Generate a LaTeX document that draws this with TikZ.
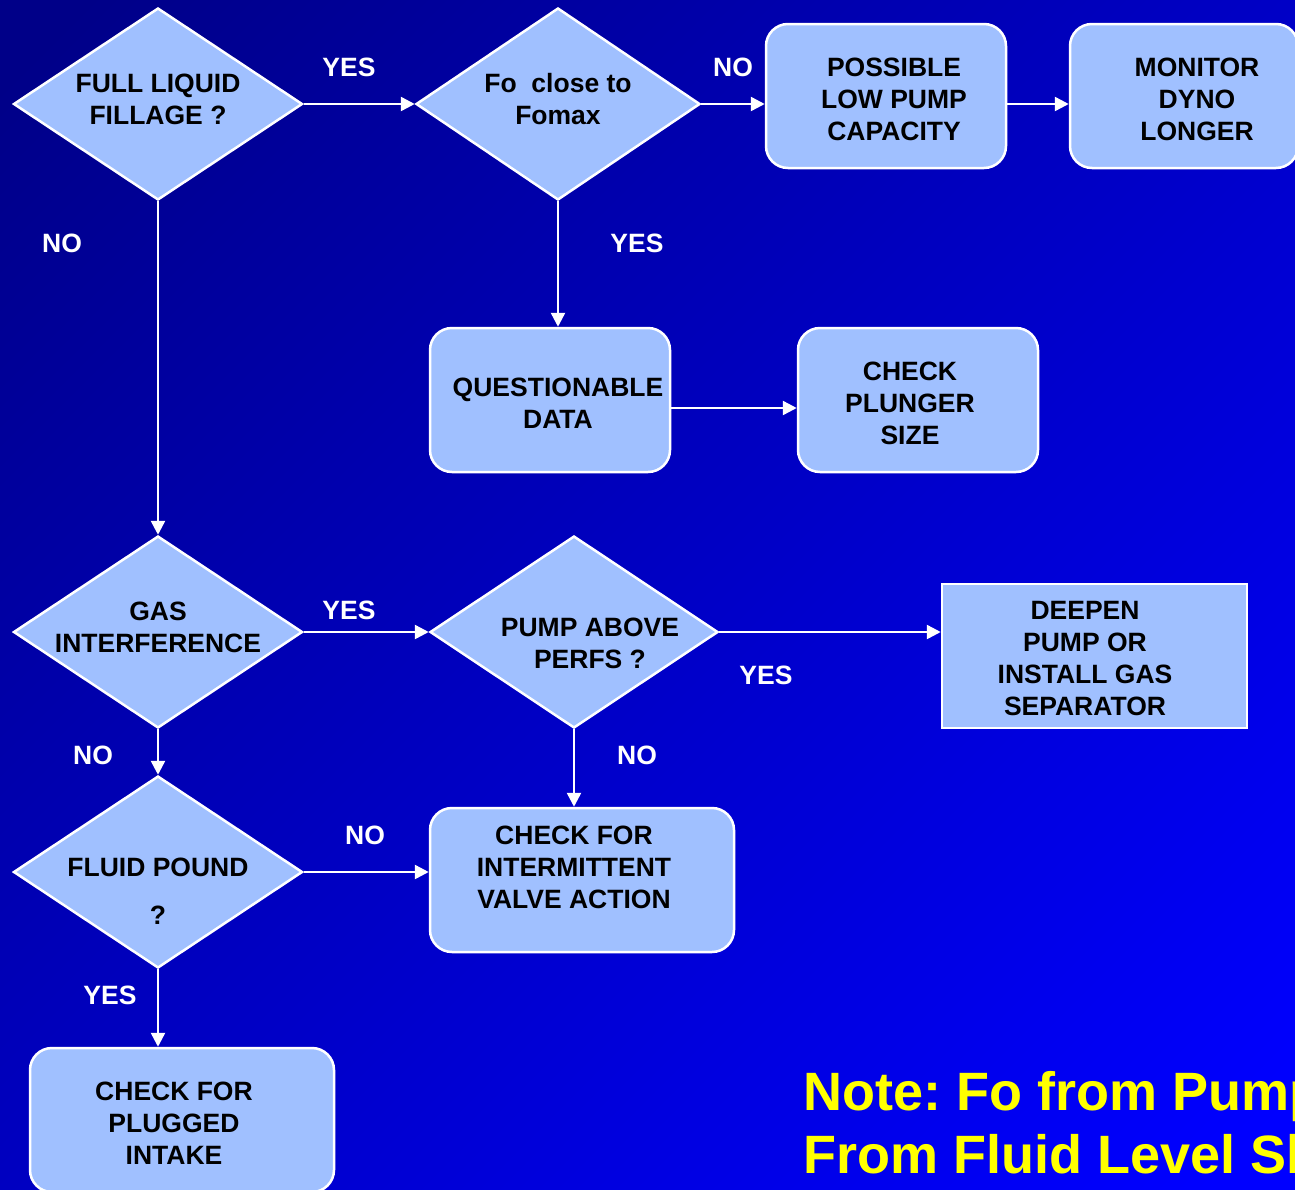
\documentclass[tikz,border=0pt]{standalone}
\usepackage{fontspec}
\setmainfont{Liberation Sans}
\usetikzlibrary{shapes.geometric,arrows.meta,calc}
\definecolor{bgdark}{RGB}{0,0,136}
\definecolor{bglight}{RGB}{0,0,255}
\definecolor{boxfill}{RGB}{160,192,255}
\definecolor{notecol}{RGB}{255,255,0}
\frenchspacing
\begin{document}
\begin{tikzpicture}[x=1pt,y=-1pt,
  dia/.style={shape=diamond, draw=white, line width=2.5pt, fill=boxfill, minimum width=289pt, minimum height=192pt, inner sep=0pt, aspect=1.5},
  rbox/.style={shape=rectangle, rounded corners=22pt, draw=white, line width=2.5pt, fill=boxfill, inner sep=0pt, minimum height=144pt},
  sbox/.style={shape=rectangle, draw=white, line width=2.5pt, fill=boxfill, inner sep=0pt, minimum height=144pt},
  txt/.style={font=\fontsize{26.5}{32}\selectfont\bfseries, text=black, align=center, inner sep=0pt},
  lbl/.style={font=\fontsize{26.5}{32}\selectfont\bfseries, text=white, inner sep=0pt},
  conn/.style={draw=white, line width=2.5pt, -{Triangle[length=14pt,width=14pt]}},
  note/.style={font=\fontsize{54}{63}\selectfont\bfseries\frenchspacing, text=notecol, inner sep=0pt, anchor=base west}]

\useasboundingbox (0,0) rectangle (1295,1189);
\clip (0,0) rectangle (1295,1189);
\shade[top color=bgdark, bottom color=bglight, shading angle=45] (-200,-200) rectangle (1495,1389);

% decisions
\node[dia] (d1) at (158,104) {};
\node[txt] (d1t) at (158,99) {FULL LIQUID\\FILLAGE ?};
\node[dia, minimum width=284pt] (d2) at (558,104) {};
\node[txt] (d2t) at (558,99) {Fo\ \ close to\\Fomax};
\node[dia] (d3) at (158,632) {};
\node[txt] (d3t) at (158,627) {GAS\\INTERFERENCE};
\node[dia, minimum width=288pt] (d4) at (574,632) {};
\node[txt] (d4t) at (590,643) {PUMP ABOVE\\PERFS ?};
\node[dia] (d5) at (158,872) {};
\node[txt, font=\fontsize{26.5}{48}\selectfont\bfseries] (d5t) at (158,891) {FLUID POUND\\?};

% boxes
\node[rbox, minimum width=240pt] (pos) at (886,96) {};
\node[txt] (post) at (894,99) {POSSIBLE\\LOW PUMP\\CAPACITY};
\node[rbox, minimum width=228pt] (mon) at (1184,96) {};
\node[txt] (mont) at (1197,99) {MONITOR\\DYNO\\LONGER};
\node[rbox, minimum width=240pt] (q) at (550,400) {};
\node[txt] (qt) at (558,403) {QUESTIONABLE\\DATA};
\node[rbox, minimum width=240pt] (pl) at (918,400) {};
\node[txt] (plt) at (910,403) {CHECK\\PLUNGER\\SIZE};
\node[sbox, minimum width=305pt] (dp) at (1094.5,656) {};
\node[txt] (dpt) at (1085,659) {DEEPEN\\PUMP OR\\INSTALL GAS\\SEPARATOR};
\node[rbox, minimum width=304pt] (int) at (582,880) {};
\node[txt] (intt) at (574,867) {CHECK FOR\\INTERMITTENT\\VALVE ACTION};
\node[rbox, minimum width=304pt] (plug) at (182,1120) {};
\node[txt] (plugt) at (174,1123) {CHECK FOR\\PLUGGED\\INTAKE};

% connectors
\draw[conn] (d1.east) -- (d2.west);
\draw[conn] (d2.east) -- (d2.east -| pos.west);
\draw[conn] (pos.east |- d2.east) -- (mon.west |- d2.east);
\draw[conn] (d2.south) -- (d2.south |- q.north);
\draw[conn] ([yshift=-8pt]q.east) -- ([yshift=-8pt]pl.west);
\draw[conn] (d1.south) -- (d3.north);
\draw[conn] (d3.east) -- (d4.west);
\draw[conn] (d4.east) -- (d4.east -| dp.west);
\draw[conn] (d4.south) -- (d4.south |- int.north);
\draw[conn] (d3.south) -- (d5.north);
\draw[conn] (d5.east) -- (d5.east -| int.west);
\draw[conn] (d5.south) -- (d5.south |- plug.north);

% labels
\node[lbl] (l1) at (349,67) {YES};
\node[lbl] (l2) at (733,67) {NO};
\node[lbl] (l3) at (637,243) {YES};
\node[lbl] (l4) at (62,243) {NO};
\node[lbl] (l5) at (349,610) {YES};
\node[lbl] (l6) at (766,675) {YES};
\node[lbl] (l7) at (637,755) {NO};
\node[lbl] (l8) at (93,755) {NO};
\node[lbl] (l9) at (365,835) {NO};
\node[lbl] (l10) at (110,995) {YES};

% note
\node[note] (n1) at (803,1110) {Note: Fo from Pump};
\node[note] (n2) at (803,1173) {From Fluid Level Shot};
\end{tikzpicture}
\end{document}
